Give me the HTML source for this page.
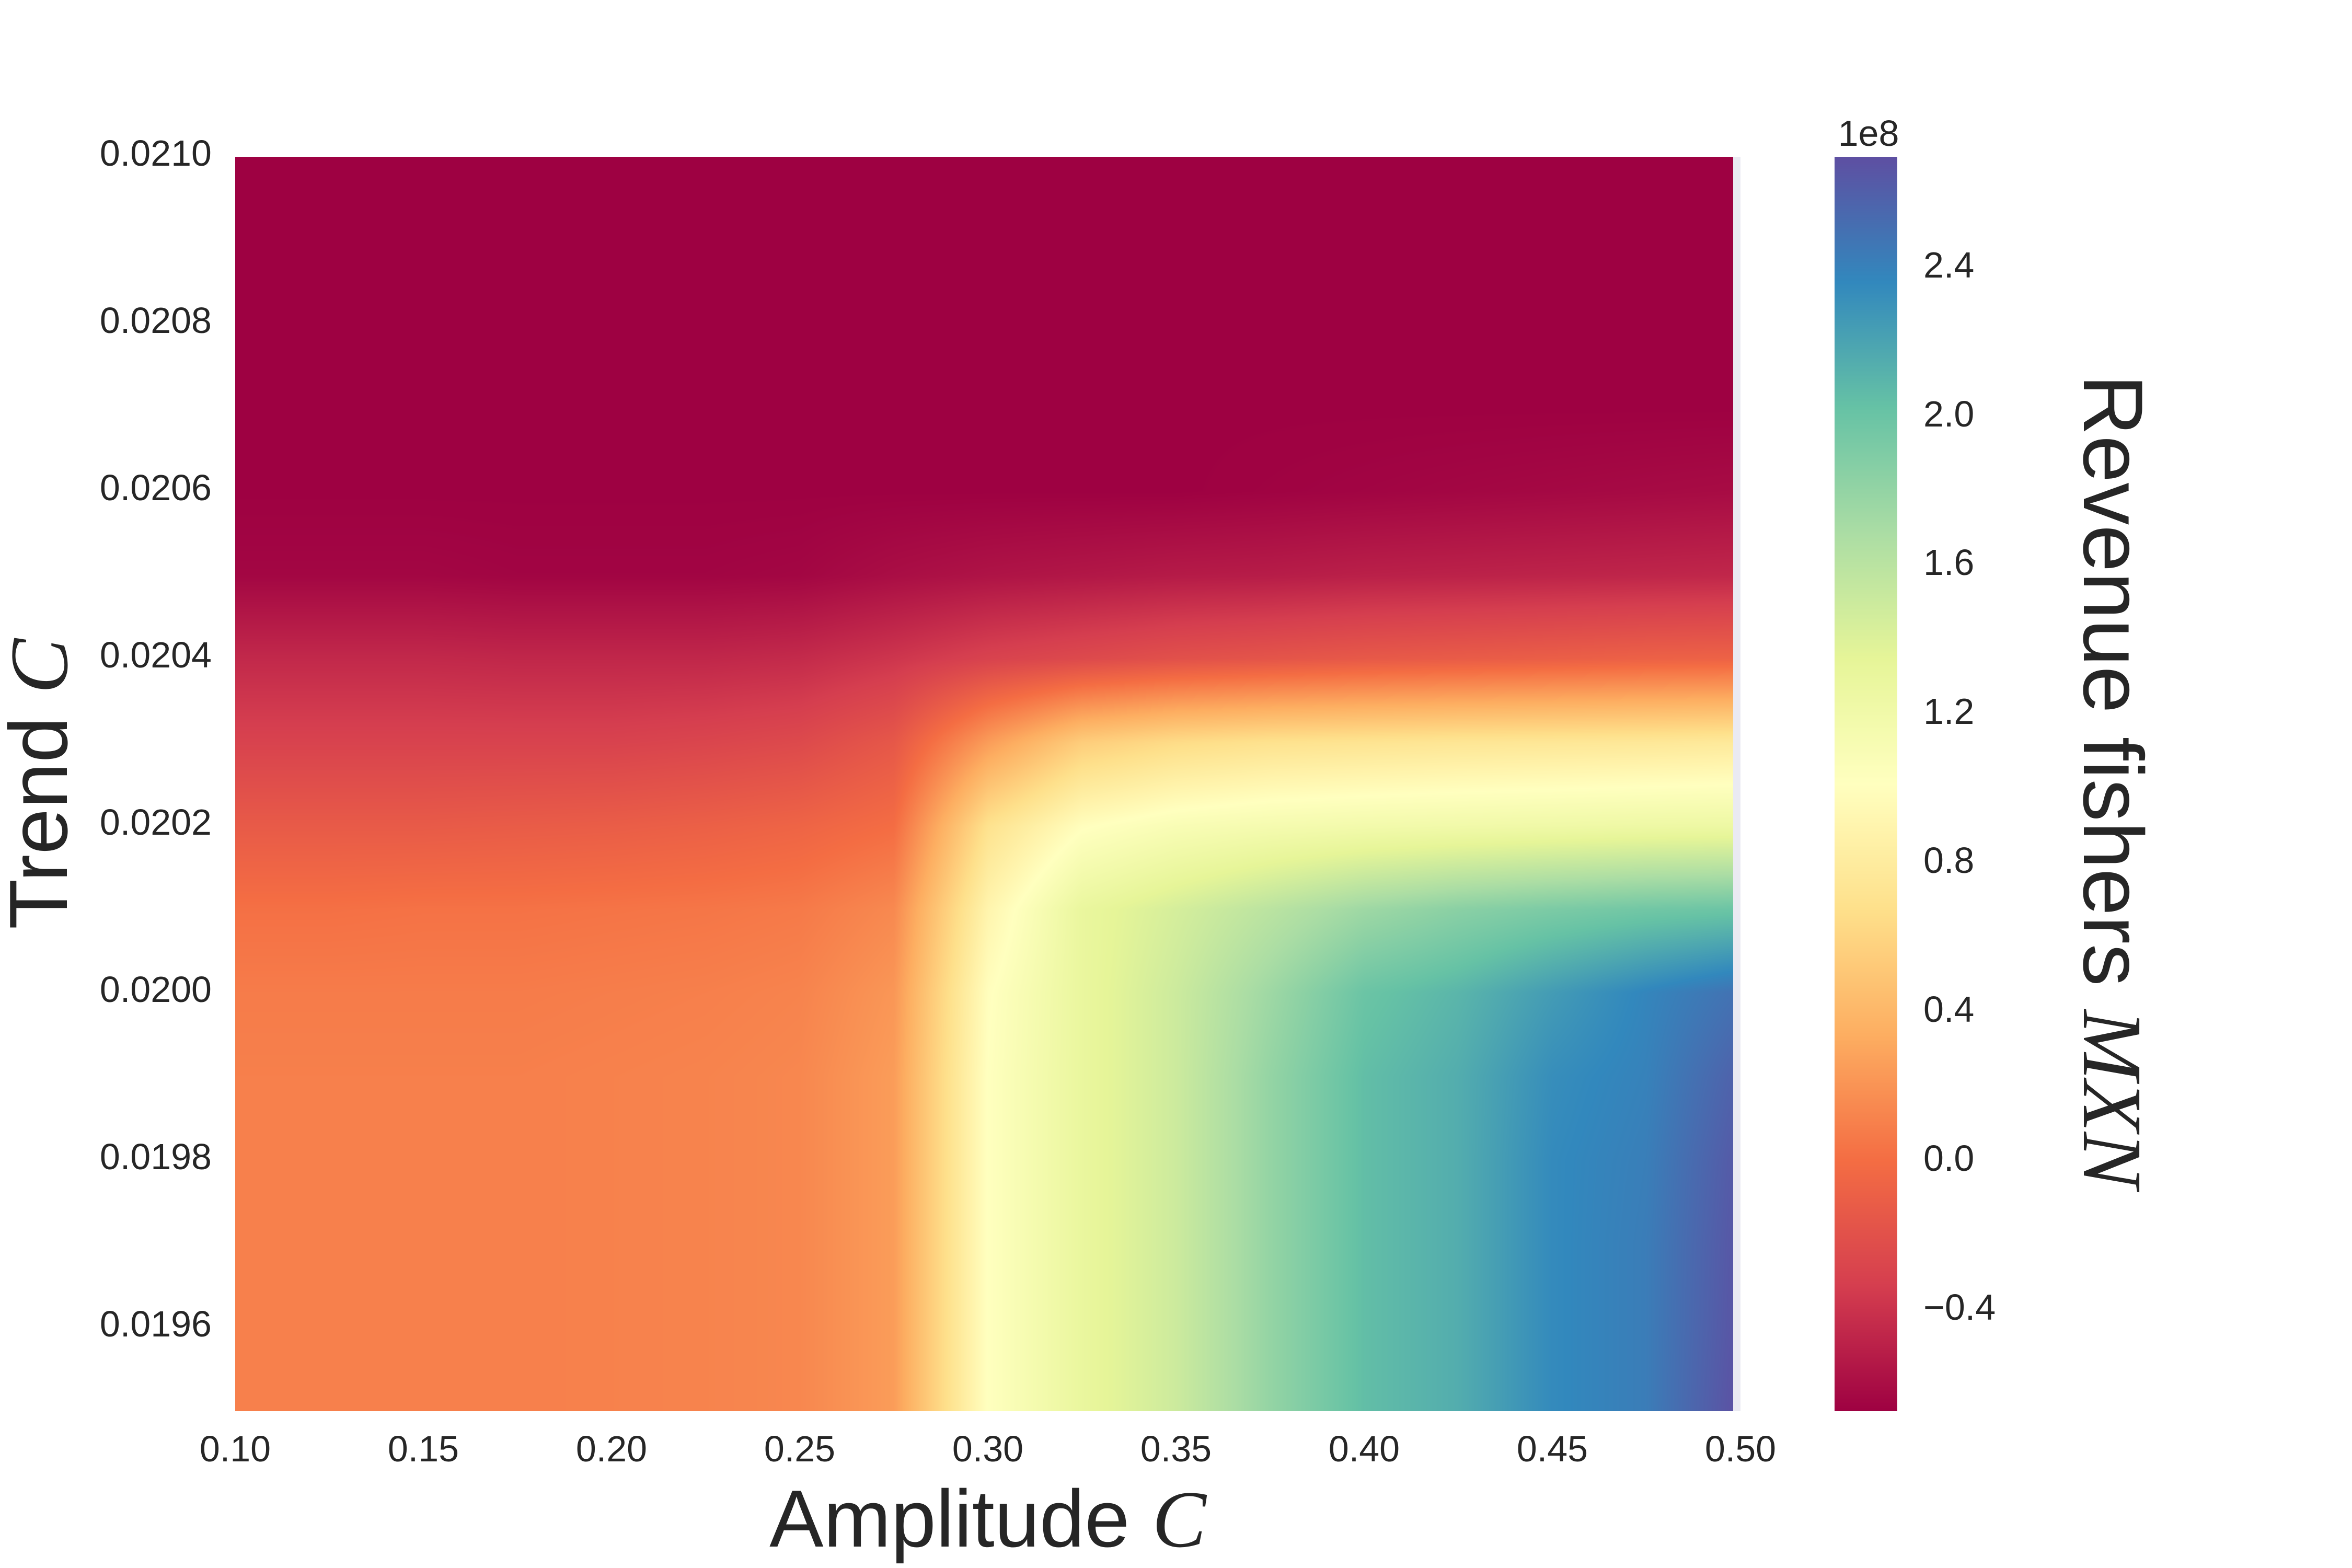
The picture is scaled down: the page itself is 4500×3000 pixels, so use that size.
<!DOCTYPE html>
<html><head><meta charset="utf-8"><style>
html,body{margin:0;padding:0;background:#fff;}
#wrap{position:relative;width:4500px;height:3000px;overflow:hidden;font-family:"Liberation Sans",sans-serif;color:#262626;}
canvas{position:absolute;}
.t{position:absolute;font-size:70px;line-height:1;white-space:nowrap;}
.m{font-family:"Liberation Serif",serif;font-style:italic;}
</style></head><body>
<div id="wrap">
<div style="position:absolute;left:450px;top:300px;width:2880px;height:2400px;background:#eaeaf2;"></div>
<canvas id="hm" width="2866" height="2400" style="left:450px;top:300px;"></canvas>
<canvas id="cb" width="120" height="2400" style="left:3510px;top:300px;"></canvas>
<div class="t" style="left:3575px;top:220px;transform:translateX(-50%);">1e8</div>
<div class="t" style="left:1890px;top:2828px;font-size:155px;transform:translateX(-50%);">Amplitude <span class="m">C</span></div>
<div class="t" style="left:75px;top:1500px;font-size:158px;transform:translate(-50%,-50%) rotate(-90deg);">Trend <span class="m">C</span></div>
<div class="t" style="left:4041px;top:1495px;font-size:162px;transform:translate(-50%,-50%) rotate(90deg);">Revenue fishers <span class="m">MXN</span></div>
</div>
<script>
const xVals=[0.100,0.125,0.150,0.175,0.200,0.225,0.250,0.275,0.300,0.325,0.350,0.375,0.400,0.425,0.450,0.475,0.500];
const yVals=[0.0210,0.0209,0.0208,0.0207,0.0206,0.0205,0.0204,0.0203,0.0202,0.0201,0.0200,0.0199,0.0198,0.0197,0.0196,0.0195];
const z0210=[-0.67,-0.67,-0.67,-0.67,-0.67,-0.67,-0.67,-0.67,-0.67,-0.67,-0.67,-0.67,-0.67,-0.67,-0.67,-0.67,-0.67];
const z0209=[-0.67,-0.67,-0.67,-0.67,-0.67,-0.67,-0.67,-0.67,-0.67,-0.67,-0.67,-0.67,-0.67,-0.67,-0.67,-0.67,-0.67];
const z0208=[-0.67,-0.67,-0.67,-0.67,-0.67,-0.67,-0.67,-0.67,-0.67,-0.67,-0.67,-0.67,-0.67,-0.67,-0.67,-0.67,-0.67];
const z0207=[-0.67,-0.67,-0.67,-0.67,-0.67,-0.67,-0.67,-0.67,-0.67,-0.67,-0.67,-0.67,-0.67,-0.67,-0.67,-0.67,-0.67];
const z0206=[-0.67,-0.67,-0.67,-0.67,-0.67,-0.67,-0.67,-0.67,-0.67,-0.67,-0.67,-0.66,-0.65,-0.64,-0.63,-0.62,-0.61];
const z0205=[-0.64,-0.64,-0.64,-0.65,-0.65,-0.65,-0.64,-0.6,-0.57,-0.55,-0.53,-0.52,-0.5,-0.49,-0.48,-0.47,-0.46];
const z0204=[-0.45,-0.45,-0.45,-0.46,-0.46,-0.46,-0.44,-0.38,-0.3,-0.25,-0.2,-0.17,-0.14,-0.12,-0.1,-0.08,-0.07];
const z0203=[-0.3,-0.3,-0.3,-0.3,-0.3,-0.28,-0.25,-0.15,0.25,0.55,0.65,0.7,0.72,0.74,0.75,0.76,0.78];
const z0202=[-0.13,-0.13,-0.13,-0.12,-0.11,-0.09,-0.06,0.0,0.7,1.0,1.1,1.15,1.18,1.2,1.22,1.24,1.25];
const z0201=[0.02,0.02,0.03,0.03,0.04,0.05,0.07,0.15,0.9,1.3,1.45,1.6,1.75,1.85,1.92,1.97,2.0];
const z0200=[0.08,0.08,0.08,0.08,0.09,0.1,0.12,0.22,1.0,1.3,1.5,1.75,2.0,2.1,2.25,2.38,2.5];
const z0199=[0.1,0.1,0.1,0.1,0.11,0.12,0.14,0.25,1.02,1.3,1.5,1.8,2.05,2.15,2.33,2.4,2.6];
const z0198=[0.1,0.1,0.1,0.1,0.11,0.12,0.14,0.25,1.02,1.3,1.5,1.8,2.05,2.15,2.35,2.42,2.65];
const z0197=[0.1,0.1,0.1,0.1,0.11,0.12,0.14,0.25,1.02,1.3,1.5,1.8,2.05,2.15,2.35,2.43,2.67];
const z0196=[0.1,0.1,0.1,0.1,0.11,0.12,0.14,0.25,1.02,1.3,1.5,1.8,2.05,2.15,2.35,2.43,2.68];
const z0195=[0.1,0.1,0.1,0.1,0.11,0.12,0.14,0.25,1.02,1.3,1.5,1.8,2.05,2.15,2.35,2.43,2.7];
const zRows=[z0210,z0209,z0208,z0207,z0206,z0205,z0204,z0203,z0202,z0201,z0200,z0199,z0198,z0197,z0196,z0195];
const xTicks=[0.10,0.15,0.20,0.25,0.30,0.35,0.40,0.45,0.50];
const yTicks=[0.0196,0.0198,0.0200,0.0202,0.0204,0.0206,0.0208,0.0210];
const cTicks=[-0.4,0.0,0.4,0.8,1.2,1.6,2.0,2.4];
const vMin=-0.67, vMax=2.70;

const X0=450,X1=3330,Y0=300,Y1=2700;
const xMin=0.10,xMax=0.50,yMin=0.0195,yMax=0.0210;
function sx(v){return X0+(v-xMin)/(xMax-xMin)*(X1-X0);}
function sy(v){return Y1-(v-yMin)/(yMax-yMin)*(Y1-Y0);}
const stops=["#9e0142","#d53e4f","#f46d43","#fdae61","#fee08b","#ffffbf","#e6f598","#abdda4","#66c2a5","#3288bd","#5e4fa2"].map(h=>[parseInt(h.substr(1,2),16),parseInt(h.substr(3,2),16),parseInt(h.substr(5,2),16)]);
function cmap(v){let t=(v-vMin)/(vMax-vMin);t=Math.max(0,Math.min(1,t))*10;let i=Math.min(9,Math.floor(t));let f=t-i;const a=stops[i],b=stops[i+1];return [a[0]+(b[0]-a[0])*f,a[1]+(b[1]-a[1])*f,a[2]+(b[2]-a[2])*f];}
function interp(arr,v){for(let i=0;i<arr.length-1;i++){const a=arr[i],b=arr[i+1];if((v-a)*(v-b)<=0){return i+(v-a)/(b-a);}}return v<arr[0]===(arr[0]<arr[1])?0:arr.length-1;}

const hm=document.getElementById('hm');const hc=hm.getContext('2d');
const W=hm.width,H=hm.height;const img=hc.createImageData(W,H);
const colF=[];for(let px=0;px<W;px++){const xv=xMin+(px+0.5)/(X1-X0)*(xMax-xMin);colF.push(interp(xVals,xv));}
for(let py=0;py<H;py++){const yv=yMax-(py+0.5)/(Y1-Y0)*(yMax-yMin);const rf=interp(yVals,yv);const r0=Math.min(yVals.length-2,Math.floor(rf));const fr=rf-r0;
 const A=zRows[r0],B=zRows[r0+1];
 for(let px=0;px<W;px++){const cf=colF[px];const c0=Math.min(xVals.length-2,Math.floor(cf));const fc=cf-c0;
  const v=(A[c0]*(1-fc)+A[c0+1]*fc)*(1-fr)+(B[c0]*(1-fc)+B[c0+1]*fc)*fr;
  const c=cmap(v);const k=(py*W+px)*4;img.data[k]=c[0];img.data[k+1]=c[1];img.data[k+2]=c[2];img.data[k+3]=255;}}
hc.putImageData(img,0,0);

const cb=document.getElementById('cb');const cc=cb.getContext('2d');
for(let py=0;py<cb.height;py++){const v=vMax-(py+0.5)/cb.height*(vMax-vMin);const c=cmap(v);cc.fillStyle='rgb('+c.map(Math.round).join(',')+')';cc.fillRect(0,py,cb.width,1);}
function csy(v){return Y1-(v-vMin)/(vMax-vMin)*(Y1-Y0);}

const wrap=document.getElementById('wrap');
xTicks.forEach(v=>{const d=document.createElement('div');d.className='t';


d.style.left=sx(v)+'px';d.style.top='2737px';d.style.transform='translateX(-50%)';d.textContent=v.toFixed(2);wrap.appendChild(d);});
yTicks.forEach(v=>{const d=document.createElement('div');d.className='t';


d.style.right=(4500-405)+'px';d.style.top=(sy(v)-42)+'px';d.textContent=v.toFixed(4);wrap.appendChild(d);});
cTicks.forEach(v=>{const d=document.createElement('div');d.className='t';


d.style.left='3680px';d.style.top=(csy(v)-42)+'px';d.textContent=(v<0?'\u2212':'')+Math.abs(v).toFixed(1);wrap.appendChild(d);});
</script>
</body></html>
